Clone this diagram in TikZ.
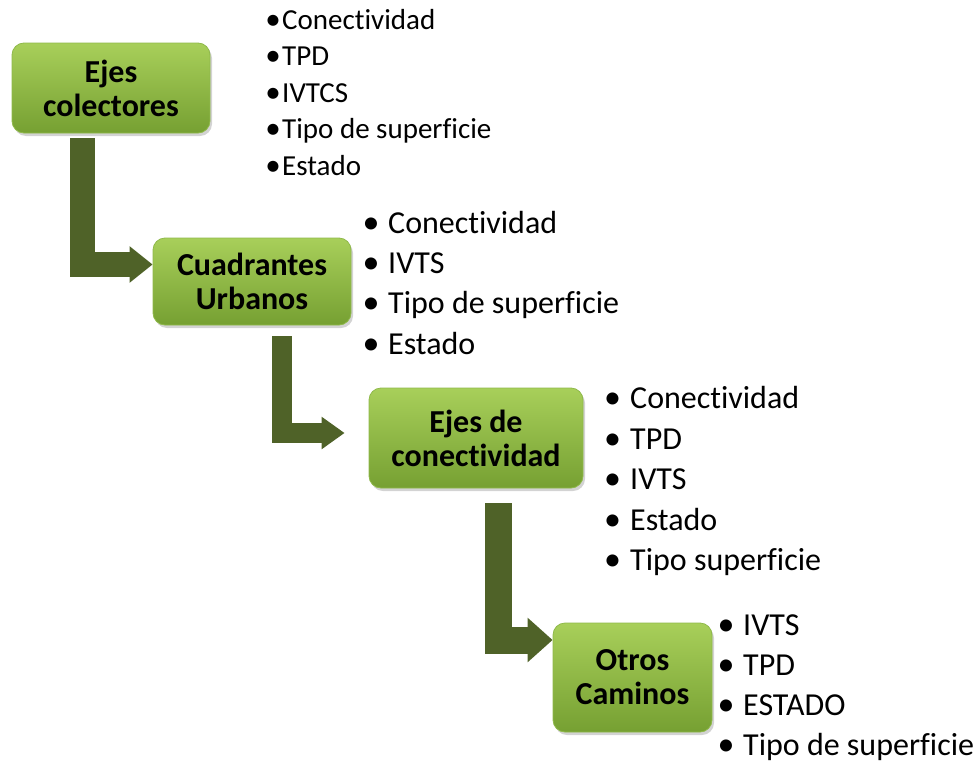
\documentclass[tikz,border=0pt]{standalone}
\usepackage{fontspec}
\setmainfont{Carlito}[Ligatures=NoCommon]
\usetikzlibrary{arrows.meta,shadows,calc}
\definecolor{boxtop}{HTML}{A8CF5A}
\definecolor{boxbot}{HTML}{76A032}
\definecolor{boxedge}{HTML}{8FB94A}
\definecolor{arrowc}{HTML}{4F6228}
\begin{document}
\begin{tikzpicture}[x=1pt,y=-1pt,
  box/.style={rounded corners=12pt, top color=boxtop, bottom color=boxbot,
    draw=boxedge, line width=0.8pt,
    drop shadow={shadow xshift=2pt,shadow yshift=-3pt,opacity=0.35},
    font=\fontsize{32}{34}\selectfont\bfseries, align=center, inner sep=0pt},
  bigarrow/.style={draw=arrowc, line join=miter},
  itemA/.style={anchor=base west, inner sep=0pt, font=\fontsize{29}{34}\selectfont},
  bulA/.style={anchor=base, inner sep=0pt, font=\fontsize{31}{34}\selectfont},
  itemB/.style={anchor=base west, inner sep=0pt, font=\fontsize{32}{38}\selectfont},
  bulB/.style={anchor=base, inner sep=0pt, font=\fontsize{34}{38}\selectfont}]
\useasboundingbox (0,0) rectangle (975,763);

% boxes
\node[box, minimum width=198pt, minimum height=90pt] (b1) at (111,88) {Ejes\\colectores};
\node[box, minimum width=198pt, minimum height=87pt] (b2) at (252,281.5) {Cuadrantes\\Urbanos};
\node[box, minimum width=214pt, minimum height=100pt] (b3) at (476,438) {Ejes de\\conectividad};
\node[box, minimum width=159pt, minimum height=109pt] (b4) at (632.5,677.5) {Otros\\Caminos};

% bent arrows
\draw[bigarrow, line width=25pt, -{Triangle[length=23pt,width=35pt]}]
  ($(b1.south west)+(70.5,5)$) |- ($(b2.west)+(0,-17)$);
\draw[bigarrow, line width=20pt, -{Triangle[length=23pt,width=31pt]}]
  ($(b2.south west)+(129,11)$) |- ($(b3.west)+(-24,-5)$);
\draw[bigarrow, line width=27pt, -{Triangle[length=25pt,width=43pt]}]
  ($(b3.south west)+(129.5,15)$) |- ($(b4.west)+(0,-37.5)$);

% list 1
\foreach \t [count=\i] in {Conectividad,TPD,IVTCS,Tipo de superficie,Estado}{
  \node[bulA] (p1-\i) at (273,{29+(\i-1)*36.5}) {•};
  \node[itemA] (l1-\i) at (282,{29+(\i-1)*36.5}) {\t};
}
% list 2
\foreach \t [count=\i] in {Conectividad,IVTS,Tipo de superficie,Estado}{
  \node[bulB] (p2-\i) at (371,{233+(\i-1)*40.4}) {•};
  \node[itemB] (l2-\i) at (388,{233+(\i-1)*40.4}) {\t};
}
% list 3
\foreach \t [count=\i] in {Conectividad,TPD,IVTS,Estado,Tipo superficie}{
  \node[bulB] (p3-\i) at (612.5,{408.5+(\i-1)*40.6}) {•};
  \node[itemB] (l3-\i) at (630,{408.5+(\i-1)*40.6}) {\t};
}
% list 4
\foreach \t [count=\i] in {IVTS,TPD,ESTADO,Tipo de superficie}{
  \node[bulB] (p4-\i) at (726,{635+(\i-1)*40}) {•};
  \node[itemB] (l4-\i) at (743,{635+(\i-1)*40}) {\t};
}
\end{tikzpicture}
\end{document}
